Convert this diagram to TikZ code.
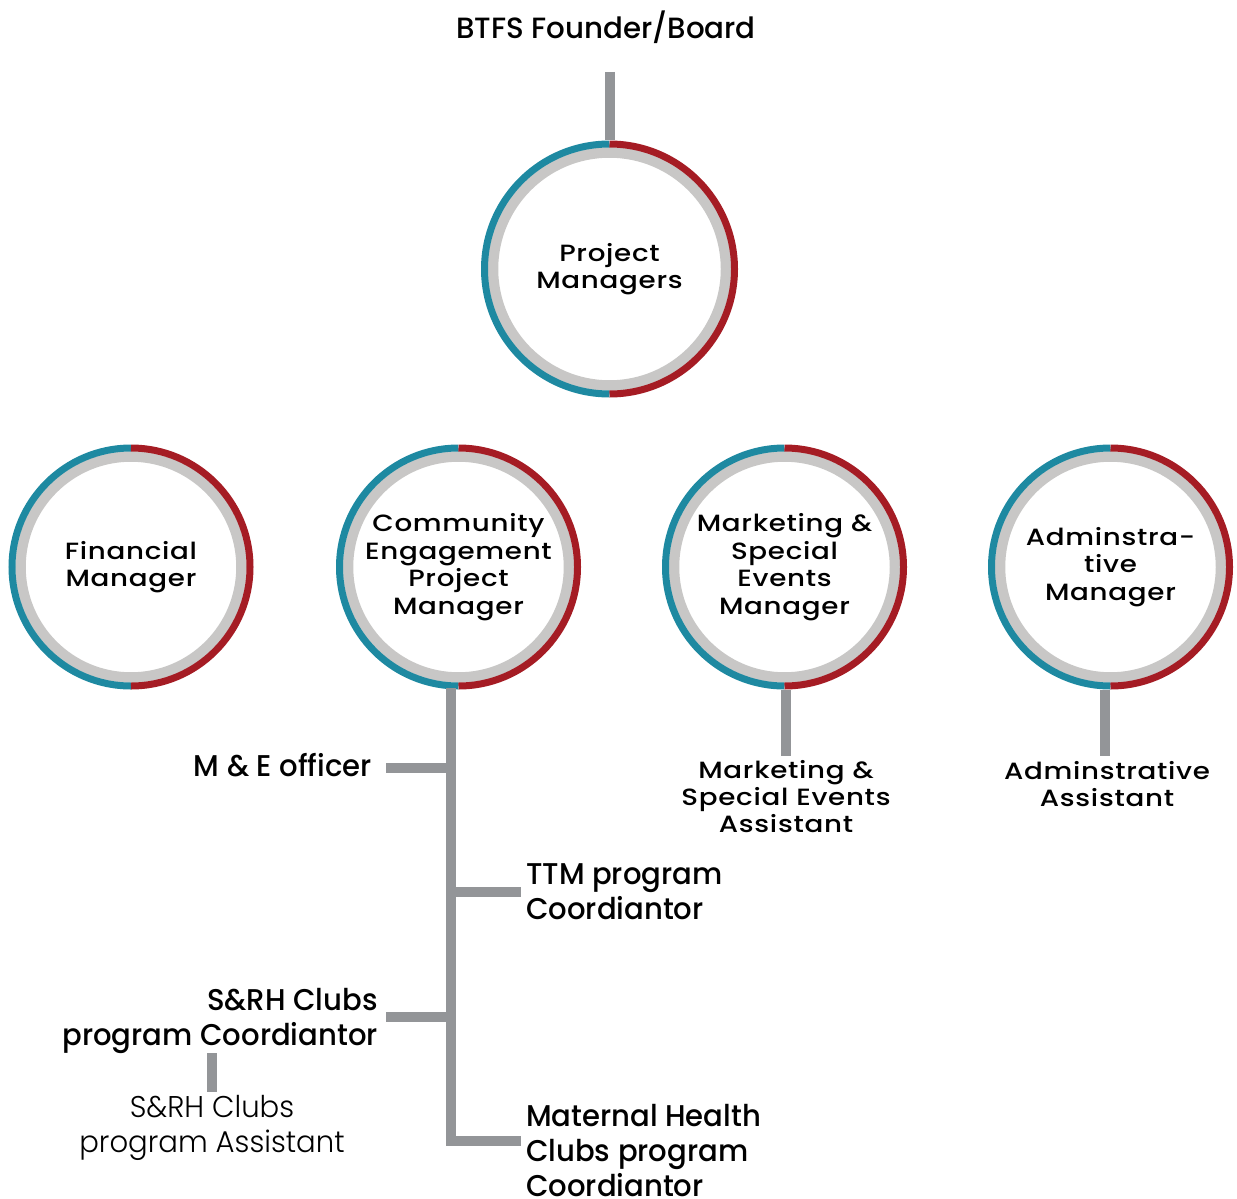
\documentclass[tikz,border=0pt]{standalone}
\usepackage{fontspec}
\setmainfont{Poppins}
\newfontfamily\pmed{Poppins Medium}
\newfontfamily\pmedsp[FakeStretch=1.18,LetterSpace=3]{Poppins Medium}
\newfontfamily\pcond[FakeStretch=0.97]{Poppins Medium}
\newfontfamily\plight[FakeStretch=0.97]{Poppins Light}
\usetikzlibrary{calc}
\definecolor{ringblue}{HTML}{1E89A1}
\definecolor{ringred}{HTML}{A51C24}
\definecolor{ringgray}{HTML}{C8C7C6}
\definecolor{conngray}{HTML}{939598}
\newcommand\ringdraw[2]{%
  \draw[ringgray, line width=10.5pt] (#1) circle[radius=#2-12];
  \draw[ringblue, line width=7pt] (#1) ++(90:#2-3.5) arc[start angle=90,end angle=270,radius=#2-3.5];
  \draw[ringred, line width=7pt] (#1) ++(270:#2-3.5) arc[start angle=270,end angle=450,radius=#2-3.5];
}
\begin{document}
\begin{tikzpicture}[x=1pt,y=-1pt,
  conn/.style={draw=conngray, line width=10pt},
  circ/.style={circle, fill=white, inner sep=0pt, align=center,
    font=\pmedsp\fontsize{23.5}{27.5}\selectfont},
  toplbl/.style={inner sep=0pt, font=\pmed\fontsize{29.3}{32}\selectfont},
  asst/.style={inner sep=0pt, align=center, font=\pmedsp\fontsize{23.5}{27}\selectfont},
  lbl/.style={inner sep=0pt, font=\pcond\fontsize{30}{35}\selectfont},
  lightlbl/.style={inner sep=0pt, align=center, font=\plight\fontsize{30}{35}\selectfont}]
\useasboundingbox (0,0) rectangle (1237,1199);

% connector free ends
\coordinate (btfsEnd) at (610,72);
\coordinate (tTop) at (451,688);
\coordinate (tBot) at (451,1141);
\coordinate (mhcEnd) at (521,1141);
\coordinate (meEnd) at (386,768);
\coordinate (ttmEnd) at (521,892);
\coordinate (srhEnd) at (386,1017);
\coordinate (msaTop) at (786,756);
\coordinate (adaTop) at (1105,756);
\coordinate (sraTop) at (212,1053);
\coordinate (sraBot) at (212,1092);

% top label
\node[toplbl, anchor=base] (btfs) at (606,39) {BTFS Founder/Board};

% circles
\node[circ, minimum size=257pt] (pm) at (609.5,269) {Project\\Managers};
\node[circ, minimum size=245pt] (fin) at (131,567) {Financial\\Manager};
\node[circ, minimum size=245pt] (cep) at (458.5,567) {Community\\Engagement\\Project\\Manager};
\node[circ, minimum size=245pt] (mse) at (784.5,567) {Marketing \&\\Special\\Events\\Manager};
\node[circ, minimum size=245pt] (adm) at (1110.5,567) {Adminstra-\\tive\\Manager};

\ringdraw{pm.center}{128.5}
\ringdraw{fin.center}{122.5}
\ringdraw{cep.center}{122.5}
\ringdraw{mse.center}{122.5}
\ringdraw{adm.center}{122.5}

% connectors
\draw[conn] (btfsEnd) -- (btfsEnd |- pm.north);
\draw[conn] (mse.south -| msaTop) -- (msaTop);
\draw[conn] (adm.south -| adaTop) -- (adaTop);
\draw[conn] (tTop) -- (tBot) -- (mhcEnd);
\draw[conn] (meEnd) -- (meEnd -| tTop);
\draw[conn] (ttmEnd -| tTop) -- (ttmEnd);
\draw[conn] (srhEnd) -- (srhEnd -| tTop);
\draw[conn] (sraTop) -- (sraBot);

% labels
\node[asst] (msa) at (786,797) {Marketing \&\\Special Events\\Assistant};
\node[asst] (ada) at (1107,784) {Adminstrative\\Assistant};
\node[lbl, anchor=east] (me) at (372,765) {M \& E officer};
\node[lbl, anchor=west, align=left] (ttm) at (526,892) {TTM program\\Coordiantor};
\node[lbl, anchor=east, align=right] (srh) at (378,1021) {S\&RH Clubs\\program Coordiantor};
\node[lbl, anchor=west, align=left] (mhc) at (526,1151) {Maternal Health\\Clubs program\\Coordiantor};
\node[lightlbl] (sra) at (212,1128) {S\&RH Clubs\\program Assistant};
\end{tikzpicture}
\end{document}
